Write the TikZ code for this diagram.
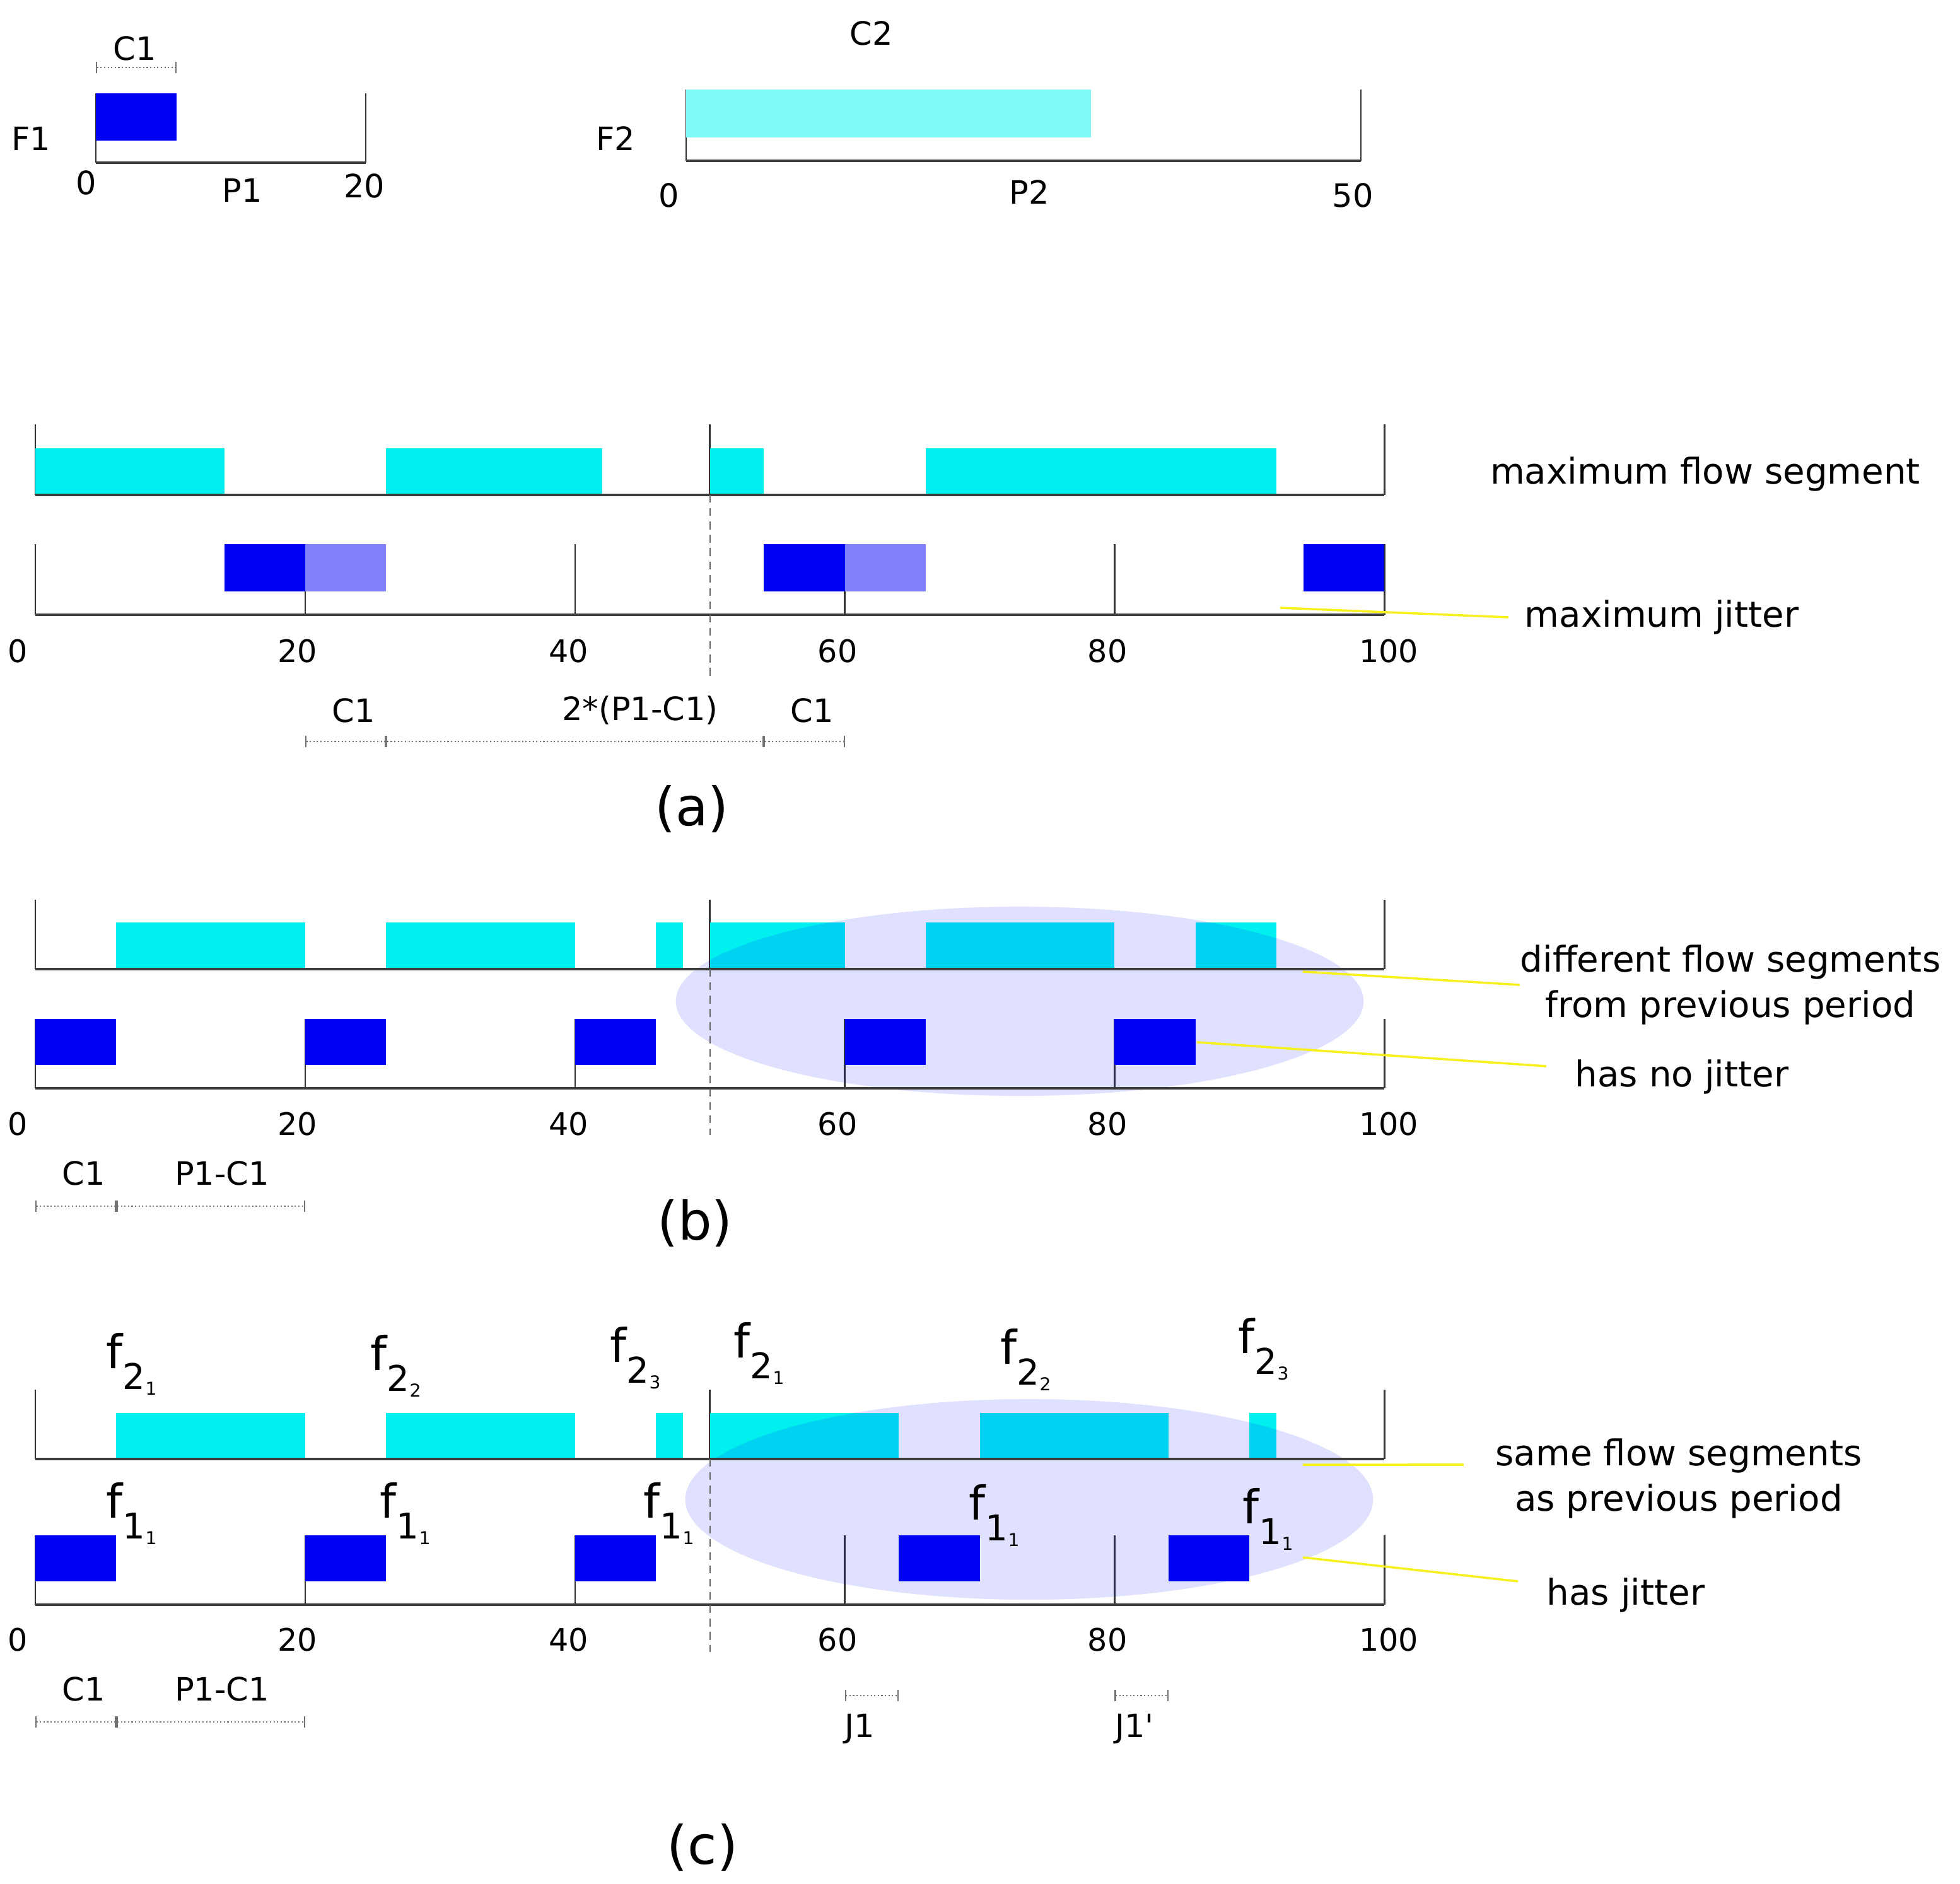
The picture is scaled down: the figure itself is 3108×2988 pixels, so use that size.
\documentclass[tikz,border=0pt]{standalone}
\usepackage{fontspec}
\setmainfont{DejaVu Sans}
\usetikzlibrary{arrows.meta}

\definecolor{flowone}{RGB}{0,0,242}
\definecolor{jitter}{RGB}{128,128,250}
\definecolor{flowtwo}{RGB}{0,240,240}
\definecolor{flowtwopale}{RGB}{128,248,248}
\definecolor{axisgray}{RGB}{60,60,60}
\definecolor{leader}{RGB}{245,240,30}

\newcommand{\fseg}[2]{f\raisebox{-0.46em}{\fontsize{16}{16}\selectfont #1\raisebox{-0.16em}{\fontsize{8}{8}\selectfont #2}}}

\begin{document}
\begin{tikzpicture}[x=0.01cm,y=-0.01cm,
	lbl/.style={font=\fontsize{14.5}{16}\selectfont,inner sep=0pt},
	num/.style={font=\fontsize{14}{16}\selectfont,inner sep=0pt},
	note/.style={font=\fontsize{16}{20.5}\selectfont,align=center,inner sep=0pt},
	sublabel/.style={font=\fontsize{24}{28}\selectfont,inner sep=0pt},
	seglabel/.style={font=\fontsize{21}{24}\selectfont,inner sep=0pt,anchor=base west},
	axisline/.style={draw=axisgray,line width=1.3pt},
	tickline/.style={draw=black!80,line width=0.7pt},
	period/.style={draw=black!60,line width=0.5pt,dash pattern=on 3.5pt off 2.5pt},
	dim/.style={draw=black!55,line width=0.6pt,densely dotted,{Bar[width=5pt]}-{Bar[width=5pt]}},
	leadline/.style={draw=leader,line width=1pt},
	window/.style={fill=blue,fill opacity=0.12}]
	\useasboundingbox (0,0) rectangle (3108,2988);

	% F1 and F2
	\begin{scope}[shift={(1.52cm,0)},x=0.2138cm]
		\draw[tickline] (0,148) -- (0,258) (20,148) -- (20,258);
		\fill[flowone] (0,148) rectangle (6,223);
		\draw[axisline] (0,258) -- (20,258);
		\draw[dim] (0,107) -- (6,107);
	\end{scope}
	\node[lbl] (c1top) at (214,77) {C1};
	\node[lbl] (f1) at (49,220) {F1};
	\node[lbl] (f1zero) at (137,290) {0};
	\node[lbl] (p1) at (384,302) {P1};
	\node[lbl] (f1end) at (578,295) {20};

	\begin{scope}[shift={(10.875cm,0)},x=0.2138cm]
		\draw[tickline] (0,142) -- (0,255) (50,142) -- (50,255);
		\fill[flowtwopale] (0,142) rectangle (30,218);
		\draw[axisline] (0,255) -- (50,255);
	\end{scope}
	\node[lbl] (c2top) at (1382,53) {C2};
	\node[lbl] (f2) at (976,220) {F2};
	\node[lbl] (f2zero) at (1061,310) {0};
	\node[lbl] (p2) at (1632,305) {P2};
	\node[lbl] (f2end) at (2145,310) {50};

	% (a)
	\begin{scope}[shift={(0.56cm,0)},x=0.2138cm]
		\draw[tickline] (0,673) -- (0,785) (50,673) -- (50,785) (100,673) -- (100,785);
		\foreach \a/\b in {0/14,26/42,50/54,66/92}
			\fill[flowtwo] (\a,711) rectangle (\b,785);
		\draw[axisline] (0,785) -- (100,785);
		\foreach \t in {0,20,...,100}
			\draw[tickline] (\t,863) -- (\t,975);
		\foreach \a/\b in {14/20,54/60,94/100}
			\fill[flowone] (\a,863) rectangle (\b,938);
		\foreach \a/\b in {20/26,60/66}
			\fill[jitter] (\a,863) rectangle (\b,938);
		\draw[axisline] (0,975) -- (100,975);
		\draw[period] (50,785) -- (50,1075);
		\foreach \a/\b in {20/26,26/54,54/60}
			\draw[dim] (\a,1176) -- (\b,1176);
	\end{scope}
	\foreach \p/\v in {28/0,472/20,902/40,1328/60,1756/80,2202/100}
		\node[num] (na\v) at (\p,1033) {\v};
	\node[lbl] (ac1) at (561,1127) {C1};
	\node[lbl] (agap) at (1015,1127) {2*(P1-C1)};
	\node[lbl] (ac1b) at (1288,1127) {C1};
	\node[sublabel] (capa) at (1097,1283) {(a)};
	\node[note] (mfs) at (2704,752) {maximum flow segment};
	\node[note] (mj) at (2635,979) {maximum jitter};
	\coordinate (mjtip) at (2030,964);
	\draw[leadline] (mjtip) -- ([xshift=-0.25cm]mj.west);

	% (b)
	\begin{scope}[shift={(0.56cm,0)},x=0.2138cm]
		\draw[tickline] (0,1427) -- (0,1537) (50,1427) -- (50,1537) (100,1427) -- (100,1537);
		\foreach \a/\b in {6/20,26/40,46/48,50/60,66/80,86/92}
			\fill[flowtwo] (\a,1463) rectangle (\b,1537);
		\foreach \t in {0,20,...,100}
			\draw[tickline] (\t,1616) -- (\t,1726);
		\foreach \a in {0,20,...,80}
			\fill[flowone] (\a,1616) rectangle (\a+6,1689);
	\end{scope}
	\fill[window] (1617,1588) ellipse [x radius=5.45cm,y radius=1.5cm];
	\begin{scope}[shift={(0.56cm,0)},x=0.2138cm]
		\draw[axisline] (0,1537) -- (100,1537) (0,1726) -- (100,1726);
		\draw[period] (50,1537) -- (50,1800);
		\foreach \a/\b in {0/6,6/20}
			\draw[dim] (\a,1913) -- (\b,1913);
	\end{scope}
	\foreach \p/\v in {28/0,472/20,902/40,1328/60,1756/80,2202/100}
		\node[num] (nb\v) at (\p,1783) {\v};
	\node[lbl] (bc1) at (133,1861) {C1};
	\node[lbl] (bgap) at (352,1861) {P1-C1};
	\node[sublabel] (capb) at (1102,1940) {(b)};
	\node[note] (dfs) at (2744,1562) {different flow segments\\from previous period};
	\node[note] (hnj) at (2667,1708) {has no jitter};
	\coordinate (dfstip) at (2066,1541);
	\coordinate (hnjtip) at (1898,1653);
	\draw[leadline] (dfstip) -- (dfs.west);
	\draw[leadline] (hnjtip) -- ([xshift=-0.45cm,yshift=0.17cm]hnj.west);

	% (c)
	\begin{scope}[shift={(0.56cm,0)},x=0.2138cm]
		\draw[tickline] (0,2204) -- (0,2314) (50,2204) -- (50,2314) (100,2204) -- (100,2314);
		\foreach \a/\b in {6/20,26/40,46/48,50/64,70/84,90/92}
			\fill[flowtwo] (\a,2241) rectangle (\b,2314);
		\foreach \t in {0,20,...,100}
			\draw[tickline] (\t,2435) -- (\t,2545);
		\foreach \a in {0,20,40,64,84}
			\fill[flowone] (\a,2435) rectangle (\a+6,2508);
	\end{scope}
	\fill[window] (1632,2378) ellipse [x radius=5.45cm,y radius=1.59cm];
	\begin{scope}[shift={(0.56cm,0)},x=0.2138cm]
		\draw[axisline] (0,2314) -- (100,2314) (0,2545) -- (100,2545);
		\draw[period] (50,2314) -- (50,2620);
		\foreach \a/\b in {0/6,6/20}
			\draw[dim] (\a,2731) -- (\b,2731);
		\draw[dim] (60,2689) -- (64,2689);
		\draw[dim] (80,2689) -- (84,2689);
	\end{scope}
	\foreach \p/\v in {28/0,472/20,902/40,1328/60,1756/80,2202/100}
		\node[num] (nc\v) at (\p,2601) {\v};
	\foreach \p/\q/\i [count=\k] in {168/2170/1,587/2173/2,967/2160/3,1163/2153/1,1586/2163/2,1963/2146/3}
		\node[seglabel] (ftwo\k) at (\p,\q) {\fseg{2}{\i}};
	\foreach \p/\q [count=\k] in {168/2407,602/2407,1020/2407,1536/2410,1970/2416}
		\node[seglabel] (fone\k) at (\p,\q) {\fseg{1}{1}};
	\node[lbl] (cc1) at (133,2679) {C1};
	\node[lbl] (cgap) at (352,2679) {P1-C1};
	\node[lbl] (j1) at (1363,2742) {J1};
	\node[lbl] (j1b) at (1799,2742) {J1\textquotesingle};
	\node[sublabel] (capc) at (1114,2930) {(c)};
	\node[note] (sfs) at (2662,2345) {same flow segments\\as previous period};
	\node[note] (hj) at (2578,2530) {has jitter};
	\coordinate (sfstip) at (2066,2323);
	\coordinate (hjtip) at (2066,2470);
	\draw[leadline] (sfstip) -- ([xshift=-0.5cm,yshift=0.22cm]sfs.west);
	\draw[leadline] (hjtip) -- ([xshift=-0.45cm,yshift=0.22cm]hj.west);
\end{tikzpicture}
\end{document}
